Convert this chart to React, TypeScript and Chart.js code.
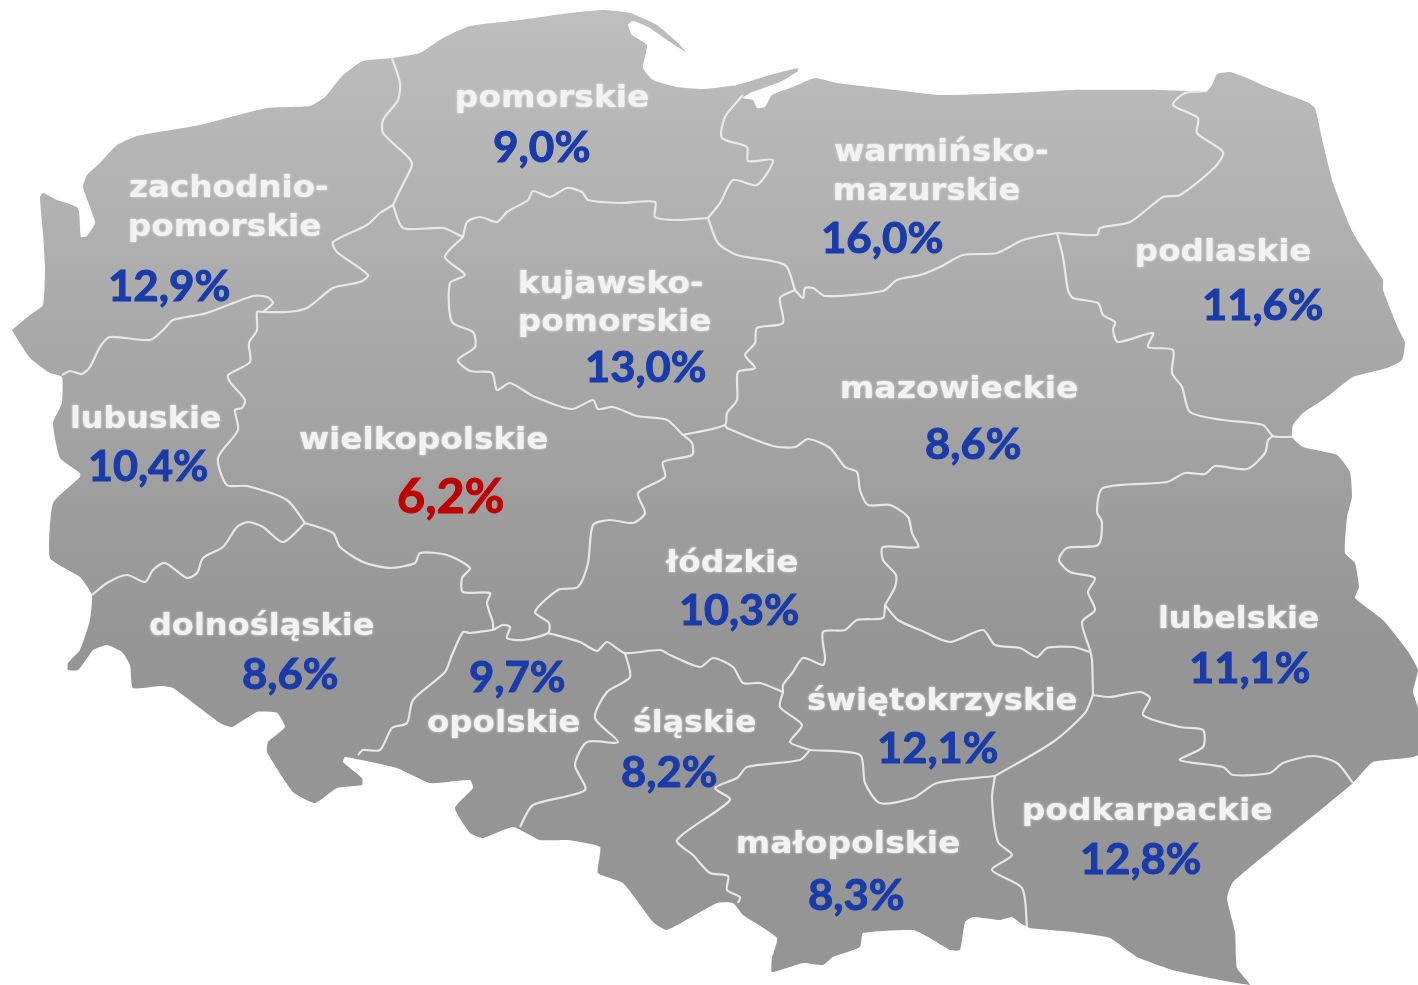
import { useEffect, useRef } from "react";
import { Chart, registerables } from "chart.js";

Chart.register(...registerables);

type P = [number, number];

const countryOutline: P[] = [
  [12,330],[30,315],[43,305],[45,267],[43,233],[40,197],[43,193],[57,200],[78,208],[81,237],[87,236],[95,223],[90,207],[83,187],[87,175],[100,163],[117,145],[137,136],[200,125],[267,108],[310,106],[325,97],[343,75],[363,61],[392,58],[420,53],[443,38],[470,26],[520,20],[570,13],[603,10],[630,13],[657,25],[677,42],[686,52],[670,42],[650,28],[633,21],[628,25],[632,35],[647,45],[643,68],[653,80],[677,87],[703,89],[737,85],[770,75],[798,68],[798,71],[780,82],[750,93],[743,98],[753,100],[757,108],[765,107],[772,95],[793,87],[815,78],[837,83],[887,89],[940,95],[1013,93],[1073,90],[1157,90],[1207,91],[1212,85],[1217,74],[1230,72],[1247,78],[1267,87],[1307,102],[1315,108],[1323,143],[1333,183],[1353,233],[1383,280],[1383,290],[1398,328],[1405,343],[1402,360],[1387,368],[1353,377],[1327,397],[1303,413],[1293,425],[1292,437],[1303,447],[1337,455],[1350,472],[1352,497],[1347,517],[1345,553],[1355,563],[1359,587],[1355,598],[1383,620],[1407,650],[1418,670],[1413,692],[1418,708],[1418,755],[1373,762],[1353,783],[1323,808],[1287,837],[1233,882],[1227,898],[1235,932],[1237,968],[1250,985],[1220,980],[1173,970],[1137,957],[1110,938],[1073,932],[1030,928],[1020,923],[1012,917],[1000,920],[973,917],[965,922],[960,950],[950,950],[930,938],[913,930],[863,933],[860,947],[833,957],[823,965],[803,963],[772,972],[772,958],[777,938],[743,915],[733,903],[717,903],[667,930],[653,922],[623,883],[598,873],[600,847],[567,840],[540,840],[513,827],[483,838],[470,833],[455,808],[473,788],[470,780],[430,783],[397,768],[345,757],[343,762],[362,778],[362,785],[337,788],[315,803],[293,792],[267,752],[268,742],[285,727],[277,713],[257,712],[232,727],[220,723],[173,688],[160,686],[133,688],[130,665],[122,652],[107,645],[93,650],[88,657],[78,670],[68,670],[68,663],[80,650],[90,620],[92,595],[80,577],[50,558],[53,503],[80,477],[80,473],[60,458],[53,423],[62,403],[62,377],[50,373],[30,358],[13,332],
];

const borderZachPom: P[] = [[392,58],[400,83],[398,100],[383,120],[383,133],[408,157],[412,165],[400,190],[393,205]];
const borderZachWlkp: P[] = [[393,205],[380,213],[367,225],[333,242],[337,252],[368,275],[360,282],[333,288],[307,308],[287,312],[263,312]];
const borderZachLub: P[] = [[263,312],[273,303],[267,297],[253,296],[207,313],[173,320],[165,328],[150,340],[110,337],[100,347],[90,367],[82,374],[70,371],[62,375]];
const borderLubWlkp: P[] = [[263,312],[257,312],[257,330],[249,343],[250,362],[228,375],[230,382],[245,400],[242,408],[235,410],[238,430],[218,458],[227,485],[247,486],[287,500],[305,523]];
const borderLubDoln: P[] = [[305,523],[283,542],[263,527],[248,522],[237,527],[223,547],[203,558],[197,573],[187,578],[165,563],[153,570],[145,582],[127,575],[107,583],[92,595]];
const borderWlkpDoln: P[] = [[305,523],[333,533],[340,547],[363,562],[390,568],[415,563],[420,553],[447,555],[470,568],[462,578],[463,592],[490,593],[487,603],[493,623],[493,630]];
const borderDolnOpol: P[] = [[493,630],[470,633],[463,632],[452,655],[445,672],[413,700],[407,723],[392,728],[380,750],[363,750],[358,755]];
const borderWlkpLodz: P[] = [[493,630],[503,625],[510,627],[507,638],[523,640],[548,633],[549,623],[535,612],[558,590],[578,587],[588,563],[593,525],[610,520],[633,523],[645,513],[638,493],[665,477],[663,462],[692,455],[692,443],[683,435]];
const borderWlkpKuj: P[] = [[683,435],[667,420],[637,416],[613,407],[598,409],[593,400],[572,409],[533,396],[510,383],[497,390],[492,373],[470,371],[458,360],[475,347],[473,332],[452,322],[450,283],[465,275],[445,257],[463,237]];
const borderPomWlkp: P[] = [[393,205],[403,228],[443,228],[463,237]];
const borderPomKuj: P[] = [[463,237],[467,222],[480,217],[497,222],[507,212],[528,200],[533,191],[550,197],[567,188],[582,192],[588,200],[620,203],[655,202],[655,217],[677,220],[708,218]];
const borderPomWarm: P[] = [[708,218],[720,203],[733,180],[757,185],[773,160],[748,161],[747,147],[722,138],[725,117],[743,95]];
const borderKujWarm: P[] = [[708,218],[718,243],[737,255],[785,265],[795,290]];
const borderKujMaz: P[] = [[795,290],[780,298],[783,323],[757,328],[755,343],[745,355],[755,368],[738,372],[737,400],[727,413],[725,425],[683,435]];
const borderWarmMaz: P[] = [[795,290],[803,298],[805,288],[813,288],[825,296],[883,291],[897,280],[920,275],[940,267],[963,255],[997,253],[1023,240],[1057,233]];
const borderWarmPodl: P[] = [[1057,233],[1097,235],[1100,228],[1130,222],[1163,197],[1180,195],[1215,167],[1223,152],[1197,133],[1198,118],[1173,105],[1185,93],[1207,91]];
const borderPodlMaz: P[] = [[1057,233],[1063,257],[1068,290],[1073,298],[1098,303],[1103,315],[1115,322],[1113,330],[1118,342],[1153,333],[1148,347],[1173,350],[1172,373],[1182,387],[1190,412],[1223,420],[1263,425],[1273,436],[1292,437]];
const borderLubelMaz: P[] = [[1273,436],[1268,440],[1265,453],[1247,469],[1215,466],[1205,474],[1185,473],[1167,482],[1103,488],[1097,512],[1102,522],[1098,545],[1067,548],[1059,560],[1070,572],[1095,578],[1088,592],[1095,610],[1082,622],[1090,650],[1092,660],[1093,695]];
const borderMazSwie: P[] = [[885,605],[898,620],[920,630],[950,642],[983,630],[995,645],[1020,648],[1037,657],[1047,648],[1073,647],[1090,652]];
const borderLodzMaz: P[] = [[725,425],[727,428],[773,446],[795,447],[808,439],[830,448],[845,467],[857,472],[860,490],[868,505],[890,505],[908,517],[912,533],[918,547],[883,547],[883,560],[896,575],[895,587],[885,605]];
const borderLodzSwie: P[] = [[885,605],[883,618],[857,620],[845,630],[823,632],[825,658],[823,665],[803,658],[793,672],[783,685],[783,692]];
const borderLodzSlask: P[] = [[548,633],[580,642],[597,651],[607,642],[625,653],[660,650],[670,655],[700,667],[713,658],[733,667],[743,683],[760,683],[783,692]];
const borderOpolSlask: P[] = [[625,653],[630,677],[607,692],[595,718],[618,742],[587,742],[575,765],[585,790],[533,805],[520,827]];
const borderSlaskSwie: P[] = [[783,692],[780,707],[802,725],[790,742],[810,750]];
const borderSlaskMalo: P[] = [[810,750],[800,760],[747,767],[737,778],[715,788],[730,800],[677,840],[693,855],[710,873],[728,876],[727,890],[740,897],[738,903]];
const borderSwieMalo: P[] = [[810,750],[860,755],[865,783],[880,803],[913,798],[937,783],[995,776]];
const borderSwiePodk: P[] = [[995,776],[1053,742],[1085,713],[1093,695]];
const borderLubelPodk: P[] = [[1093,695],[1110,697],[1140,692],[1150,698],[1143,715],[1180,727],[1203,730],[1203,747],[1180,760],[1223,767],[1233,775],[1270,773],[1283,763],[1313,756],[1337,763],[1353,783]];
const borderMaloPodk: P[] = [[995,776],[992,798],[998,842],[1012,855],[992,870],[1022,888],[1027,927]];

const regionBorders: P[][] = [
  borderZachPom, borderZachWlkp, borderZachLub, borderLubWlkp, borderLubDoln, borderWlkpDoln,
  borderDolnOpol, borderWlkpLodz, borderWlkpKuj, borderPomWlkp, borderPomKuj, borderPomWarm,
  borderKujWarm, borderKujMaz, borderWarmMaz, borderWarmPodl, borderPodlMaz, borderLubelMaz,
  borderMazSwie, borderLodzMaz, borderLodzSwie, borderLodzSlask, borderOpolSlask, borderSlaskSwie,
  borderSlaskMalo, borderSwieMalo, borderSwiePodk, borderLubelPodk, borderMaloPodk,
];

// region name line, left and right edge, baseline (map units)
const regionNames: string[] = ["zachodnio-","pomorskie","pomorskie","warmińsko-","mazurskie","podlaskie","kujawsko-","pomorskie","lubuskie","wielkopolskie","mazowieckie","łódzkie","dolnośląskie","lubelskie","opolskie","śląskie","świętokrzyskie","małopolskie","podkarpackie"];
const nameLeft: number[] = [130,130,457,835,835,1137,520,520,72,300,842,665,150,1160,428,634,808,738,1024];
const nameRight: number[] = [327,320,648,1047,1019,1310,702,710,220,547,1077,797,373,1318,579,755,1076,959,1271];
const nameBase: number[] = [197,236,107,161,200,261,293,331,428,449,398,572,635,628,732,732,710,853,820];

const valueLabels: string[] = ["12,9%","9,0%","16,0%","11,6%","13,0%","10,4%","6,2%","8,6%","10,3%","8,6%","11,1%","9,7%","8,2%","12,1%","8,3%","12,8%"];
const valueLeft: number[] = [110,494,823,1204,587,90,398,926,681,243,1191,470,622,879,809,1082];
const valueRight: number[] = [229,589,942,1322,705,207,503,1020,798,337,1309,564,716,997,903,1200];
const valueBase: number[] = [301,162,253,320,382,481,513,459,625,689,683,692,787,763,910,874];
const lowestValue = "6,2%";

const toPoints = (pts: P[]) => pts.map(([x, y]) => ({ x, y }));

const labelPlugin = {
  id: "regionLabels",
  afterDatasetsDraw(chart: any) {
    const { ctx, scales } = chart;
    const put = (text: string, l: number, r: number, b: number, font: string, color: string, blur: number, stroke: number) => {
      const x0 = scales.x.getPixelForValue(l);
      const x1 = scales.x.getPixelForValue(r);
      const y = scales.y.getPixelForValue(b);
      ctx.save();
      ctx.font = font;
      ctx.fillStyle = color;
      ctx.textBaseline = "alphabetic";
      ctx.textAlign = "left";
      if (blur) {
        ctx.shadowColor = "rgba(255,255,255,0.8)";
        ctx.shadowBlur = blur;
      }
      const m = ctx.measureText(text);
      ctx.translate(x0, y);
      ctx.scale((x1 - x0) / (m.actualBoundingBoxRight + m.actualBoundingBoxLeft), 1);
      ctx.fillText(text, m.actualBoundingBoxLeft, 0);
      if (stroke) {
        ctx.strokeStyle = color;
        ctx.lineWidth = stroke;
        ctx.strokeText(text, m.actualBoundingBoxLeft, 0);
      }
      ctx.restore();
    };
    regionNames.forEach((t, i) =>
      put(t, nameLeft[i], nameRight[i], nameBase[i], "bold 30px 'DejaVu Sans'", "#f2f2f2", 2.5, 0)
    );
    valueLabels.forEach((t, i) => {
      const low = t === lowestValue;
      put(t, valueLeft[i], valueRight[i], valueBase[i], low ? "bold 47px Lato" : "bold 42px Lato", low ? "#C00000" : "#1A3CAA", 0, 1);
    });
  },
};

export default function App() {
  const ref = useRef<HTMLCanvasElement | null>(null);
  useEffect(() => {
    const chart = new Chart(ref.current as HTMLCanvasElement, {
      type: "scatter",
      data: {
        datasets: [
          {
            label: "Polska",
            data: toPoints(countryOutline),
            order: 10,
            showLine: true,
            fill: "shape",
            tension: 0.15,
            borderWidth: 0,
            pointRadius: 0,
            backgroundColor: (c: any) => {
              const { ctx, height } = c.chart;
              const g = ctx.createLinearGradient(0, height * 0.01, 0, height * 0.65);
              g.addColorStop(0, "#BEBEBE");
              g.addColorStop(1, "#959595");
              return g;
            },
          },
          ...regionBorders.map((b, i) => ({
            label: "granica " + i,
            data: toPoints(b),
            order: 1,
            showLine: true,
            fill: false,
            tension: 0.25,
            borderColor: "rgba(238,238,238,0.9)",
            borderWidth: 2.2,
            pointRadius: 0,
          })),
        ],
      } as any,
      options: {
        animation: false,
        responsive: false,
        maintainAspectRatio: false,
        layout: { padding: 0 },
        plugins: { legend: { display: false }, tooltip: { enabled: false }, title: { display: false } },
        scales: {
          x: { type: "linear", min: 0, max: 1418, display: false },
          y: { type: "linear", min: 0, max: 985, reverse: true, display: false },
        },
      } as any,
      plugins: [labelPlugin],
    });
    return () => chart.destroy();
  }, []);
  return (
    <div style={{ position: "absolute", left: 0, top: 0, width: 1418, height: 985, background: "#fff" }}>
      <canvas ref={ref} width={1418} height={985} style={{ display: "block" }} />
    </div>
  );
}
